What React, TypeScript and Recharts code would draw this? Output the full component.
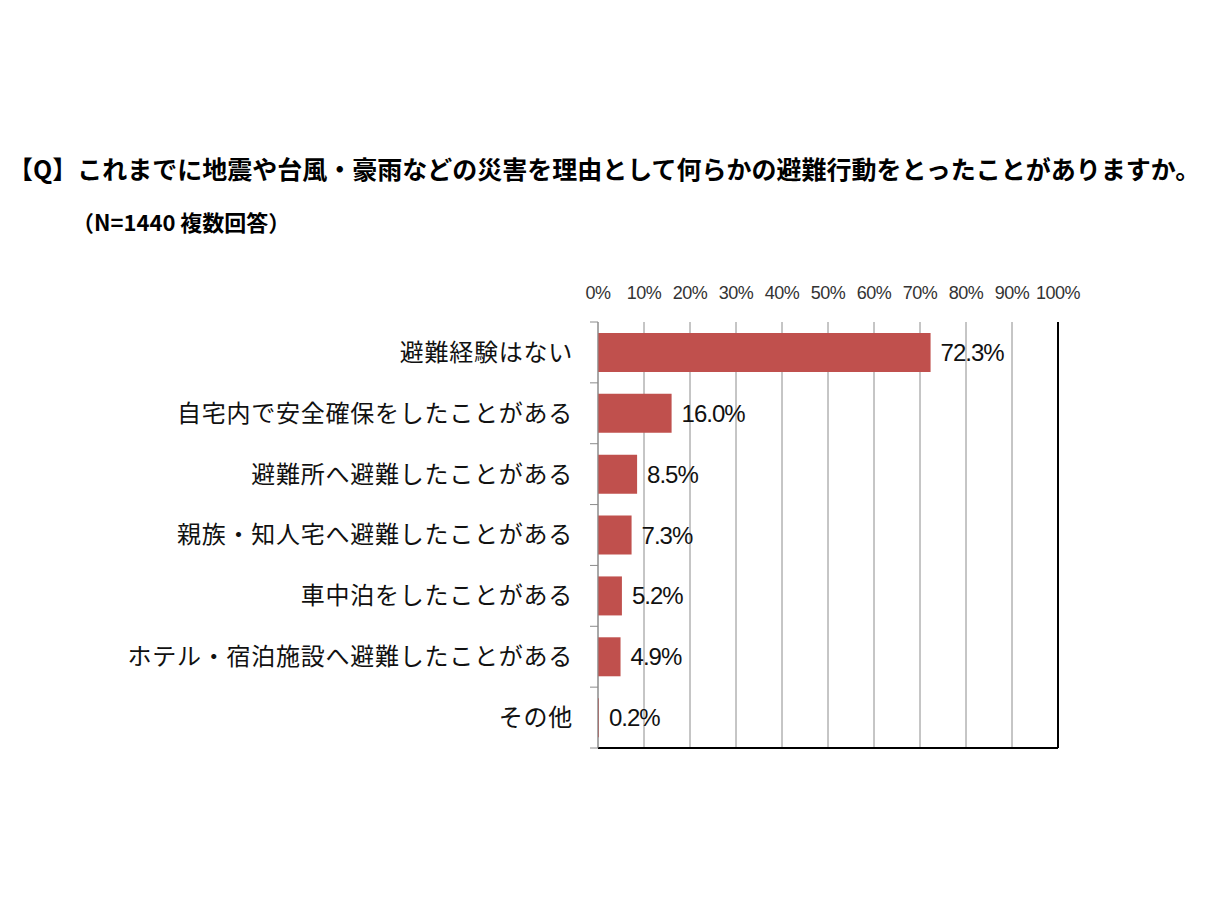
import { Bar, BarChart, CartesianGrid, LabelList, XAxis, YAxis } from "recharts";

const categories = [
  "避難経験はない",
  "自宅内で安全確保をしたことがある",
  "避難所へ避難したことがある",
  "親族・知人宅へ避難したことがある",
  "車中泊をしたことがある",
  "ホテル・宿泊施設へ避難したことがある",
  "その他",
];
const shares = [72.3, 16.0, 8.5, 7.3, 5.2, 4.9, 0.2];
const xTicks = [0, 10, 20, 30, 40, 50, 60, 70, 80, 90, 100];

const title = "【Q】これまでに地震や台風・豪雨などの災害を理由として何らかの避難行動をとったことがありますか。";
const subtitle = "（N=1440 複数回答）";

const data = categories.map((name, i) => ({ name, share: shares[i] }));

const W = 1217;
const H = 912;
const margin = { top: 292, right: 159, bottom: 164, left: 38 };
const X_AXIS_H = 30;
const Y_AXIS_W = 560;
const PLOT_H = H - margin.top - X_AXIS_H - margin.bottom;
const BAND = PLOT_H / categories.length;
const LABEL_GAP = 25;
const GRID = "#8c8c8c";
const JP = "'Noto Sans CJK JP', sans-serif";

function CategoryTick(props: any) {
  const { x, y, payload, index } = props;
  const axisX = x + LABEL_GAP;
  const last = index === categories.length - 1;
  return (
    <g>
      <line x1={axisX - 8} x2={axisX} y1={y - BAND / 2} y2={y - BAND / 2} stroke={GRID} />
      {last && <line x1={axisX - 8} x2={axisX} y1={y + BAND / 2} y2={y + BAND / 2} stroke={GRID} />}
      <text
        x={x}
        y={y}
        dy="0.35em"
        textAnchor="end"
        fontSize={24}
        letterSpacing={0.75}
        fill="#111"
        fontFamily={JP}
      >
        {payload.value}
      </text>
    </g>
  );
}

export default function App() {
  return (
    <div style={{ position: "absolute", left: 0, top: 0, width: W, height: H, background: "#fff" }}>
      <div
        style={{
          position: "absolute",
          left: 8,
          top: 150,
          fontFamily: JP,
          fontWeight: 700,
          fontSize: 25,
          lineHeight: "36px",
          color: "#000",
          whiteSpace: "nowrap",
        }}
      >
        {title}
      </div>
      <div
        style={{
          position: "absolute",
          left: 72,
          top: 205,
          fontFamily: JP,
          fontWeight: 700,
          fontSize: 22,
          lineHeight: "32px",
          color: "#000",
          whiteSpace: "nowrap",
        }}
      >
        {subtitle}
      </div>
      <div style={{ position: "absolute", left: 0, top: 0 }}>
        <BarChart width={W} height={H} data={data} layout="vertical" margin={margin}>
          <CartesianGrid horizontal={false} stroke={GRID} />
          <CartesianGrid
            vertical={false}
            stroke="#000"
            strokeWidth={2}
            horizontalCoordinatesGenerator={({ offset }: any) => [offset.top + offset.height]}
          />
          <CartesianGrid
            horizontal={false}
            stroke="#000"
            strokeWidth={2}
            verticalCoordinatesGenerator={({ offset }: any) => [offset.left + offset.width]}
          />
          <XAxis
            type="number"
            orientation="top"
            domain={[0, 100]}
            ticks={xTicks}
            interval={0}
            height={X_AXIS_H}
            axisLine={false}
            tickLine={false}
            tickSize={0}
            tickMargin={23}
            tickFormatter={(v: number) => `${v}%`}
            tick={{ fontSize: 18, fill: "#333", fontFamily: "'Liberation Sans', sans-serif", letterSpacing: -0.5 }}
          />
          <YAxis
            type="category"
            dataKey="name"
            width={Y_AXIS_W}
            axisLine={{ stroke: GRID }}
            tickLine={false}
            tickSize={0}
            tickMargin={LABEL_GAP}
            interval={0}
            tick={<CategoryTick />}
          />
          <Bar dataKey="share" fill="#C0504D" barSize={39} isAnimationActive={false}>
            <LabelList
              dataKey="share"
              position="right"
              offset={10}
              formatter={(v: any) => `${Number(v).toFixed(1)}%`}
              style={{
                fontSize: 24,
                fill: "#111",
                fontFamily: "'Liberation Sans Narrow', 'Liberation Sans', sans-serif",
                letterSpacing: -1,
              }}
            />
          </Bar>
        </BarChart>
      </div>
    </div>
  );
}
